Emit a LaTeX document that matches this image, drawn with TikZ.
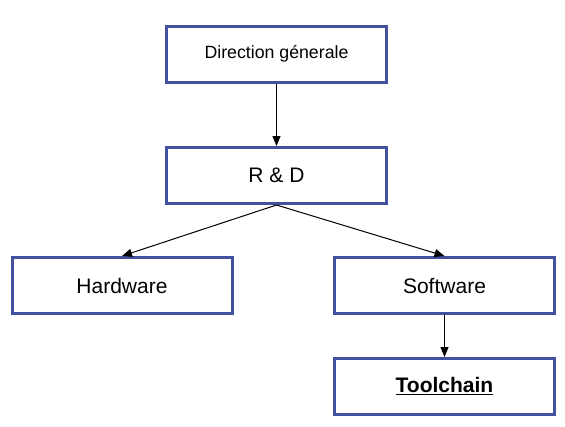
\documentclass[tikz,border=0pt]{standalone}
\usepackage{fontspec}
\setmainfont{Liberation Sans}
\usetikzlibrary{arrows.meta}
\definecolor{boxblue}{RGB}{66,80,160}
\tikzset{
  orgbox/.style={draw=boxblue, line width=2.25pt, fill=white, minimum width=220*0.75pt, minimum height=56*0.75pt, inner sep=0pt, font=\fontsize{15.75pt}{18pt}\selectfont},
  conn/.style={draw=black, line width=0.75pt, -{Triangle[length=7.5pt,width=6pt]}}
}
\begin{document}
\begin{tikzpicture}[x=0.75pt,y=-0.75pt]
\useasboundingbox (0,0) rectangle (565,426);
\node[orgbox, font=\fontsize{13.3pt}{16pt}\selectfont] (dg) at (276.5,54) {Direction génerale};
\node[orgbox] (rd) at (276.5,175.5) {R \& D};
\node[orgbox] (hw) at (122,285.5) {Hardware};
\node[orgbox] (sw) at (444.5,285.5) {Software};
\node[orgbox] (tc) at (444.5,386.5) {\textbf{\underline{Toolchain}}};
\draw[conn] (dg.south) -- (rd.north);
\draw[conn] (rd.south) -- (hw.north);
\draw[conn] (rd.south) -- (sw.north);
\draw[conn] (sw.south) -- (tc.north);
\end{tikzpicture}
\end{document}
